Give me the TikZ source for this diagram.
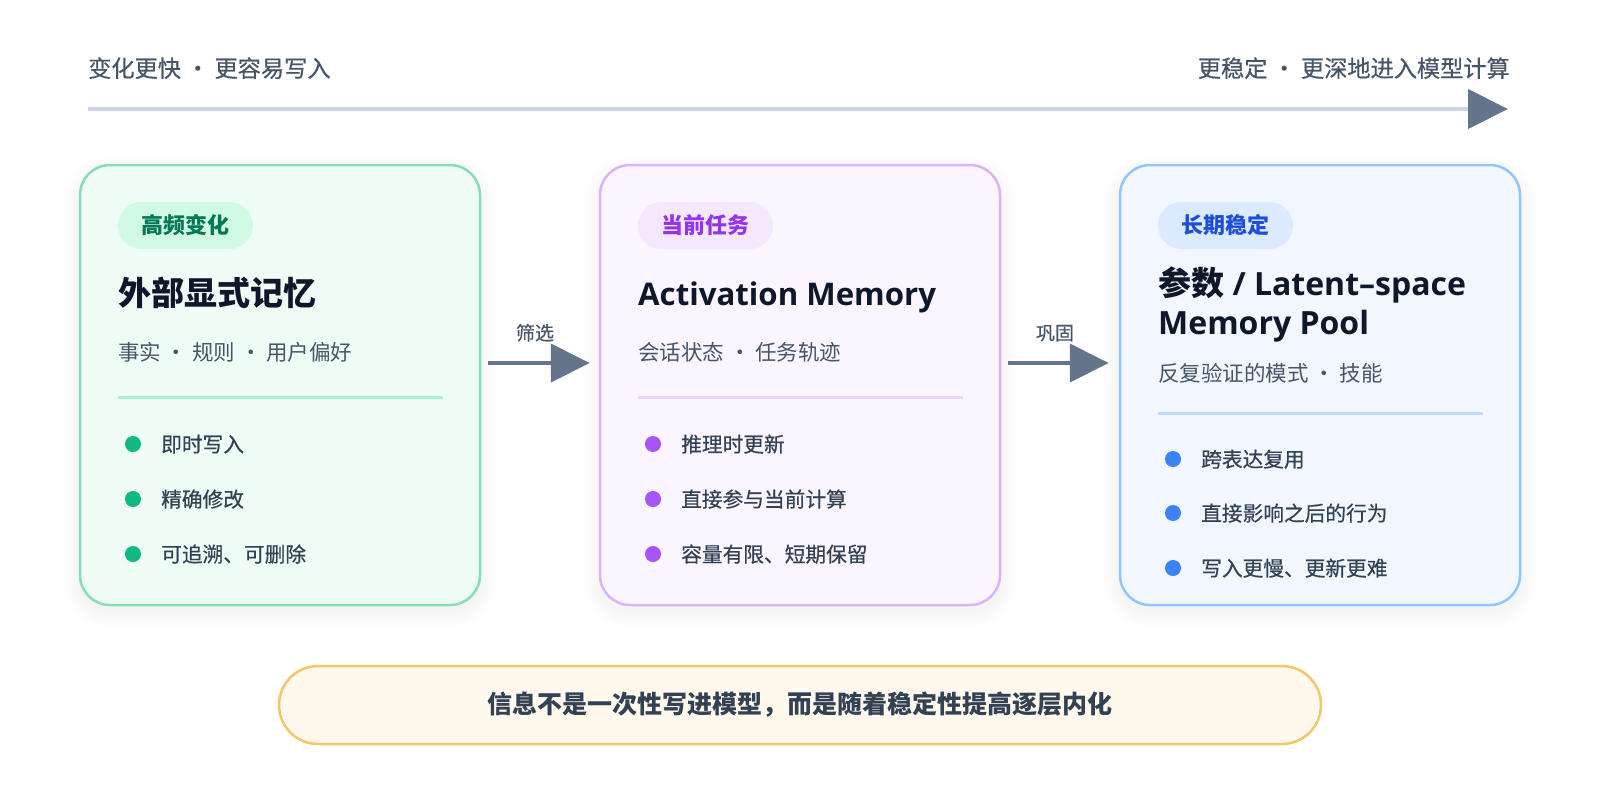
\documentclass[tikz,border=0pt]{standalone}
\usepackage{fontspec}
\setmainfont{Noto Sans CJK SC}
\newfontfamily\cjkmed{Noto Sans CJK SC}[FakeBold=0.5]
\newfontfamily\latf{Open Sans}
\usetikzlibrary{arrows.meta}
\definecolor{bgA}{HTML}{EFFCF5}\definecolor{bdA}{HTML}{88DDB5}\definecolor{pbA}{HTML}{D1FAE5}\definecolor{ptA}{HTML}{047857}\definecolor{dvA}{HTML}{A7F3D0}\definecolor{dtA}{HTML}{10B981}
\definecolor{bgB}{HTML}{FAF5FF}\definecolor{bdB}{HTML}{D8B4FE}\definecolor{pbB}{HTML}{F3E8FF}\definecolor{ptB}{HTML}{9333EA}\definecolor{dvB}{HTML}{E9D5FF}\definecolor{dtB}{HTML}{A855F7}
\definecolor{bgC}{HTML}{F1F6FF}\definecolor{bdC}{HTML}{93C5FD}\definecolor{pbC}{HTML}{DBEAFE}\definecolor{ptC}{HTML}{1D4ED8}\definecolor{dvC}{HTML}{BFDBFE}\definecolor{dtC}{HTML}{3B82F6}
\definecolor{bdD}{HTML}{F5C56A}\definecolor{bgD}{HTML}{FEF9EC}
\definecolor{inkc}{HTML}{0F172A}\definecolor{subc}{HTML}{475569}\definecolor{btxc}{HTML}{334155}
\definecolor{axisc}{HTML}{CBD5E1}\definecolor{arrc}{HTML}{64748B}
\newcommand\fsz[1]{\fontsize{#1}{#1}\selectfont}
\newcommand\cardshadow[4]{%
  \foreach \k in {1,...,10}{%
    \pgfmathsetmacro\rr{30+\k*1.6}%
    \fill[black,opacity=0.0055,rounded corners=\rr pt] (#1-\k*1.6,#2-\k*1.6+7) rectangle (#3+\k*1.6,#4+\k*1.6+7);}}
\begin{document}
\begin{tikzpicture}[x=1pt,y=-1pt,
  card/.style={draw,line width=2.5pt,rounded corners=30pt,minimum width=400pt,minimum height=440pt,inner sep=0pt},
  pill/.style={rounded corners=23.5pt,minimum width=135pt,minimum height=47pt,inner sep=0pt,font=\fsz{22}\bfseries},
  ttl/.style={anchor=base west,inner sep=0pt,text=inkc,font=\fsz{33}\bfseries},
  lttl/.style={anchor=base west,inner sep=0pt,text=inkc,font=\fsz{31.2}\latf\bfseries},
  subt/.style={anchor=base west,inner sep=0pt,text=subc,font=\fsz{21.5}},
  btxt/.style={anchor=base west,inner sep=0pt,text=btxc,font=\fsz{20.7}\cjkmed},
  dot/.style={circle,minimum size=16pt,inner sep=0pt},
  divl/.style={line width=3pt},
  conn/.style={line width=4pt,draw=arrc,-{Triangle[length=39pt,width=38pt]},shorten <=7pt,shorten >=9pt},
  lab/.style={anchor=base,inner sep=0pt,text=subc,font=\fsz{19}\cjkmed},
  toptxt/.style={inner sep=0pt,text=subc,font=\fsz{23.2}\cjkmed}]
\useasboundingbox (0,0) rectangle (1600,787);
\fill[white] (0,0) rectangle (1600,787);
% top axis
\node[toptxt,anchor=base west] (tl) at (88,77) {变化更快 · 更容易写入};
\node[toptxt,anchor=base east] (tr) at (1510,77) {更稳定 · 更深地进入模型计算};
\coordinate (axs) at (88,109);
\coordinate (axe) at (1508,109);
\draw[line width=4pt,draw=axisc,-{Triangle[length=40pt,width=39pt,color=arrc]}] (axs) -- (axe);
% shadows
\cardshadow{80}{165}{480}{605}
\cardshadow{600}{165}{1000}{605}
\cardshadow{1120}{165}{1520}{605}
% cards
\node[card,draw=bdA,fill=bgA] (c1) at (280,385) {};
\node[card,draw=bdB,fill=bgB] (c2) at (800,385) {};
\node[card,draw=bdC,fill=bgC] (c3) at (1320,385) {};
% card 1
\node[pill,fill=pbA,text=ptA] (p1) at (185.5,225.5) {高频变化};
\node[ttl] (t1) at (118,305) {外部显式记忆};
\node[subt] (s1) at (118,360) {事实 · 规则 · 用户偏好};
\draw[divl,draw=dvA] (118,397) -- (443,397);
\node[dot,fill=dtA] (d11) at (133,444) {};
\node[dot,fill=dtA] (d12) at (133,499) {};
\node[dot,fill=dtA] (d13) at (133,554) {};
\node[btxt] (b11) at (161,452) {即时写入};
\node[btxt] (b12) at (161,507) {精确修改};
\node[btxt] (b13) at (161,562) {可追溯、可删除};
% card 2
\node[pill,fill=pbB,text=ptB] (p2) at (705.5,225.5) {当前任务};
\node[lttl] (t2) at (638,305) {Activation Memory};
\node[subt] (s2) at (638,360) {会话状态 · 任务轨迹};
\draw[divl,draw=dvB] (638,397) -- (963,397);
\node[dot,fill=dtB] (d21) at (653,444) {};
\node[dot,fill=dtB] (d22) at (653,499) {};
\node[dot,fill=dtB] (d23) at (653,554) {};
\node[btxt] (b21) at (681,452) {推理时更新};
\node[btxt] (b22) at (681,507) {直接参与当前计算};
\node[btxt] (b23) at (681,562) {容量有限、短期保留};
% card 3
\node[pill,fill=pbC,text=ptC] (p3) at (1225.5,225.5) {长期稳定};
\node[ttl] (t3a) at (1158,295) {参数{\latf\fsz{32}\ / Latent–space}};
\node[lttl,font=\fsz{32}\latf\bfseries] (t3b) at (1158,334) {Memory Pool};
\node[subt] (s3) at (1158,381) {反复验证的模式 · 技能};
\draw[divl,draw=dvC] (1158,413) -- (1483,413);
\node[dot,fill=dtC] (d31) at (1173,459) {};
\node[dot,fill=dtC] (d32) at (1173,513) {};
\node[dot,fill=dtC] (d33) at (1173,568) {};
\node[btxt] (b31) at (1201,467) {跨表达复用};
\node[btxt] (b32) at (1201,521) {直接影响之后的行为};
\node[btxt] (b33) at (1201,576) {写入更慢、更新更难};
% connectors
\draw[conn] ([yshift=22pt]c1.east) -- ([yshift=22pt]c2.west);
\draw[conn,shorten >=10pt] ([yshift=22pt]c2.east) -- ([yshift=22pt]c3.west);
\node[lab] (l1) at (535,340) {筛选};
\node[lab] (l2) at (1055,340) {巩固};
% bottom note
\node[draw=bdD,fill=bgD,line width=2.5pt,rounded corners=39pt,minimum width=1042pt,minimum height=78pt,inner sep=0pt,text=btxc,font=\fsz{25}\bfseries] (note) at (800,705) {信息不是一次性写进模型，而是随着稳定性提高逐层内化};
\end{tikzpicture}
\end{document}
